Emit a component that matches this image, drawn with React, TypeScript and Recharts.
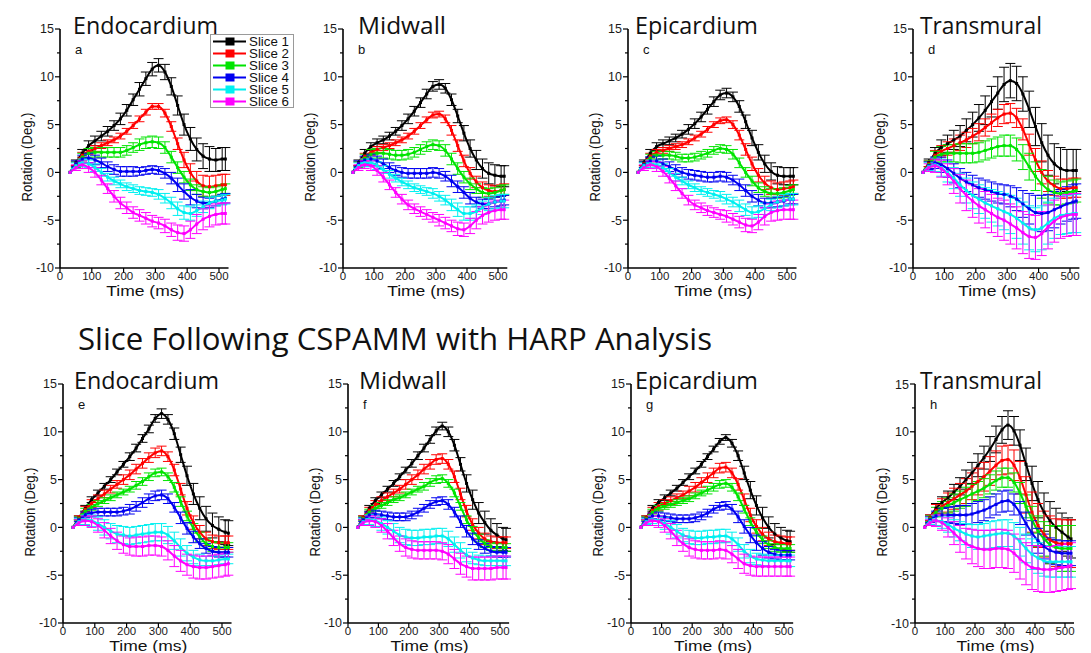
import React from 'react';
import { LineChart, Line, XAxis, YAxis, ErrorBar } from 'recharts';

const times = [32, 50, 70, 90, 110, 130, 150, 170, 190, 210, 230, 250, 270, 290, 310, 330, 350, 370, 390, 410, 430, 450, 470, 490, 510, 520];

const sliceNames = ['Slice 1', 'Slice 2', 'Slice 3', 'Slice 4', 'Slice 5', 'Slice 6'];
const sliceColors = ['#000000', '#ff0000', '#00e400', '#0000f0', '#00f0f0', '#ff00ff'];
const yTicks = [-10, -7.5, -5, -2.5, 0, 2.5, 5, 7.5, 10, 12.5, 15];
const xTicks = [0, 50, 100, 150, 200, 250, 300, 350, 400, 450, 500];
const mainTitle = 'Slice Following CSPAMM with HARP Analysis';

// Panel a – Endocardium (top)
const aS1 = [0, 1.0, 2.0, 2.8, 3.3, 3.8, 4.3, 4.9, 5.6, 6.5, 7.6, 8.7, 9.8, 10.8, 11.2, 10.5, 9.0, 7.0, 5.0, 3.5, 2.4, 1.7, 1.4, 1.3, 1.4, 1.4];
const aS2 = [0, 0.9, 1.8, 2.2, 2.5, 2.8, 3.1, 3.4, 3.8, 4.3, 4.9, 5.6, 6.3, 6.9, 6.9, 6.2, 4.8, 3.0, 1.3, 0.0, -0.9, -1.4, -1.5, -1.4, -1.3, -1.3];
const aS3 = [0, 0.8, 1.6, 2.0, 2.1, 2.1, 2.1, 2.1, 2.1, 2.3, 2.6, 2.9, 3.1, 3.2, 3.1, 2.6, 1.6, 0.5, -0.5, -1.3, -1.8, -2.0, -2.1, -2.0, -1.8, -1.7];
const aS4 = [0, 0.9, 1.4, 1.5, 1.3, 1.0, 0.6, 0.3, 0.1, 0.1, 0.1, 0.1, 0.2, 0.3, 0.2, -0.1, -0.6, -1.3, -2.0, -2.6, -3.0, -3.2, -3.2, -3.0, -2.8, -2.7];
const aS5 = [0, 0.7, 1.0, 0.9, 0.5, 0.0, -0.5, -0.9, -1.2, -1.5, -1.7, -1.9, -2.0, -2.1, -2.3, -2.7, -3.2, -3.8, -4.2, -4.3, -4.0, -3.6, -3.2, -3.0, -2.9, -2.8];
const aS6 = [0, 0.5, 0.8, 0.5, 0.0, -0.8, -1.7, -2.5, -3.2, -3.7, -4.2, -4.5, -4.8, -5.1, -5.3, -5.6, -6.0, -6.3, -6.4, -6.0, -5.4, -4.9, -4.6, -4.4, -4.3, -4.3];
const aE1 = [0, 0.3, 0.4, 0.5, 0.5, 0.5, 0.5, 0.5, 0.6, 0.6, 0.6, 0.7, 0.7, 0.7, 0.7, 0.8, 0.9, 1.0, 1.1, 1.2, 1.2, 1.3, 1.3, 1.2, 1.2, 1.2];
const aE2 = [0, 0.2, 0.3, 0.3, 0.3, 0.3, 0.3, 0.3, 0.3, 0.3, 0.3, 0.3, 0.3, 0.3, 0.3, 0.4, 0.5, 0.6, 0.8, 0.9, 1.0, 1.1, 1.1, 1.1, 1.1, 1.1];
const aE3 = [0, 0.3, 0.4, 0.5, 0.5, 0.5, 0.5, 0.5, 0.5, 0.5, 0.5, 0.6, 0.6, 0.6, 0.6, 0.6, 0.6, 0.6, 0.6, 0.6, 0.5, 0.5, 0.5, 0.5, 0.5, 0.5];
const aE4 = [0, 0.3, 0.4, 0.5, 0.5, 0.5, 0.5, 0.5, 0.5, 0.5, 0.5, 0.4, 0.4, 0.4, 0.4, 0.5, 0.6, 0.7, 0.8, 0.8, 0.7, 0.6, 0.5, 0.5, 0.5, 0.5];
const aE5 = [0, 0.3, 0.4, 0.4, 0.4, 0.4, 0.4, 0.4, 0.4, 0.4, 0.4, 0.4, 0.4, 0.4, 0.5, 0.5, 0.6, 0.7, 0.7, 0.7, 0.6, 0.6, 0.6, 0.5, 0.5, 0.5];
const aE6 = [0, 0.3, 0.4, 0.5, 0.5, 0.5, 0.5, 0.6, 0.6, 0.6, 0.6, 0.6, 0.6, 0.6, 0.6, 0.7, 0.7, 0.8, 0.8, 0.9, 1.0, 1.1, 1.1, 1.1, 1.1, 1.1];

// Panel b – Midwall (top)
const bS1 = [0, 1.0, 2.0, 2.7, 3.1, 3.4, 3.8, 4.3, 4.9, 5.6, 6.4, 7.3, 8.2, 9.0, 9.2, 8.8, 7.6, 5.9, 4.1, 2.5, 1.3, 0.4, -0.1, -0.3, -0.4, -0.4];
const bS2 = [0, 0.9, 1.7, 2.1, 2.4, 2.6, 2.8, 3.1, 3.4, 3.8, 4.3, 4.9, 5.5, 6.0, 6.1, 5.6, 4.4, 2.8, 1.2, -0.1, -1.0, -1.6, -1.9, -2.0, -1.9, -1.8];
const bS3 = [0, 0.8, 1.5, 1.9, 2.0, 2.0, 1.9, 1.8, 1.8, 1.9, 2.1, 2.4, 2.7, 2.9, 2.8, 2.3, 1.4, 0.4, -0.5, -1.2, -1.7, -2.1, -2.2, -2.1, -1.9, -1.8];
const bS4 = [0, 0.9, 1.3, 1.4, 1.2, 0.9, 0.5, 0.2, 0.0, -0.1, -0.1, -0.1, -0.1, 0.0, -0.1, -0.4, -0.9, -1.5, -2.1, -2.7, -3.1, -3.3, -3.3, -3.1, -3.0, -2.9];
const bS5 = [0, 0.7, 1.0, 1.0, 0.7, 0.3, -0.2, -0.6, -1.0, -1.3, -1.6, -1.8, -2.0, -2.2, -2.5, -2.9, -3.4, -3.9, -4.3, -4.3, -4.1, -3.7, -3.3, -3.1, -3.0, -3.0];
const bS6 = [0, 0.5, 0.8, 0.7, 0.2, -0.5, -1.3, -2.1, -2.8, -3.4, -3.8, -4.1, -4.4, -4.7, -5.0, -5.3, -5.6, -5.9, -6.0, -5.6, -5.0, -4.5, -4.2, -4.0, -3.9, -3.9];
const bE1 = [0, 0.3, 0.4, 0.4, 0.4, 0.4, 0.4, 0.4, 0.5, 0.5, 0.5, 0.5, 0.5, 0.5, 0.5, 0.5, 0.6, 0.7, 0.8, 0.9, 1.0, 1.0, 1.1, 1.1, 1.1, 1.1];
const bE2 = [0, 0.2, 0.3, 0.3, 0.3, 0.3, 0.3, 0.3, 0.3, 0.3, 0.3, 0.3, 0.3, 0.3, 0.3, 0.4, 0.5, 0.6, 0.6, 0.6, 0.6, 0.6, 0.6, 0.6, 0.6, 0.6];
const bE3 = [0, 0.3, 0.4, 0.5, 0.5, 0.5, 0.5, 0.5, 0.5, 0.5, 0.5, 0.5, 0.5, 0.5, 0.5, 0.6, 0.6, 0.6, 0.6, 0.6, 0.5, 0.5, 0.5, 0.5, 0.5, 0.5];
const bE4 = [0, 0.3, 0.4, 0.5, 0.5, 0.5, 0.5, 0.5, 0.5, 0.5, 0.5, 0.5, 0.5, 0.5, 0.5, 0.5, 0.6, 0.6, 0.6, 0.6, 0.5, 0.5, 0.5, 0.5, 0.5, 0.5];
const bE5 = [0, 0.3, 0.4, 0.4, 0.4, 0.4, 0.4, 0.4, 0.4, 0.4, 0.4, 0.4, 0.4, 0.5, 0.5, 0.5, 0.6, 0.7, 0.7, 0.7, 0.7, 0.7, 0.7, 0.7, 0.7, 0.7];
const bE6 = [0, 0.3, 0.4, 0.5, 0.5, 0.5, 0.5, 0.5, 0.5, 0.5, 0.5, 0.5, 0.5, 0.5, 0.6, 0.6, 0.6, 0.7, 0.7, 0.8, 0.9, 0.9, 1.0, 1.0, 1.0, 1.0];

// Panel c – Epicardium (top)
const cS1 = [0, 1.0, 2.0, 2.7, 3.0, 3.3, 3.6, 4.0, 4.5, 5.1, 5.8, 6.6, 7.4, 8.1, 8.3, 7.9, 6.9, 5.3, 3.6, 2.1, 0.9, 0.1, -0.3, -0.4, -0.4, -0.4];
const cS2 = [0, 0.9, 1.7, 2.1, 2.3, 2.5, 2.7, 2.9, 3.2, 3.6, 4.0, 4.5, 5.0, 5.4, 5.5, 5.0, 3.9, 2.4, 0.9, -0.3, -1.1, -1.6, -1.8, -1.7, -1.6, -1.5];
const cS3 = [0, 0.8, 1.5, 1.8, 1.8, 1.8, 1.7, 1.5, 1.5, 1.6, 1.8, 2.0, 2.3, 2.5, 2.4, 1.9, 1.0, 0.0, -0.9, -1.6, -2.0, -2.2, -2.2, -2.1, -1.9, -1.8];
const cS4 = [0, 0.8, 1.2, 1.2, 0.9, 0.6, 0.3, 0.0, -0.2, -0.3, -0.4, -0.5, -0.5, -0.4, -0.5, -0.8, -1.3, -1.9, -2.5, -2.9, -3.2, -3.2, -3.1, -3.0, -2.8, -2.8];
const cS5 = [0, 0.7, 0.9, 0.8, 0.5, 0.0, -0.5, -0.9, -1.3, -1.6, -1.9, -2.1, -2.3, -2.5, -2.8, -3.1, -3.5, -3.9, -4.2, -4.1, -3.8, -3.4, -3.1, -2.9, -2.8, -2.8];
const cS6 = [0, 0.5, 0.8, 0.6, 0.1, -0.6, -1.4, -2.2, -2.9, -3.4, -3.7, -4.0, -4.2, -4.4, -4.6, -4.9, -5.2, -5.5, -5.6, -5.2, -4.6, -4.2, -4.0, -3.9, -3.9, -3.9];
const cE1 = [0, 0.3, 0.4, 0.4, 0.4, 0.4, 0.4, 0.4, 0.5, 0.5, 0.5, 0.5, 0.5, 0.5, 0.5, 0.5, 0.6, 0.7, 0.8, 0.8, 0.9, 0.9, 0.9, 0.9, 0.9, 0.9];
const cE2 = [0, 0.2, 0.3, 0.3, 0.3, 0.3, 0.3, 0.3, 0.3, 0.3, 0.3, 0.3, 0.3, 0.3, 0.3, 0.4, 0.5, 0.6, 0.7, 0.7, 0.7, 0.7, 0.7, 0.7, 0.7, 0.7];
const cE3 = [0, 0.3, 0.4, 0.4, 0.4, 0.4, 0.4, 0.4, 0.4, 0.4, 0.4, 0.4, 0.4, 0.4, 0.4, 0.5, 0.5, 0.5, 0.5, 0.5, 0.5, 0.5, 0.5, 0.5, 0.5, 0.5];
const cE4 = [0, 0.3, 0.4, 0.5, 0.5, 0.5, 0.5, 0.5, 0.5, 0.5, 0.5, 0.5, 0.5, 0.5, 0.5, 0.5, 0.6, 0.6, 0.6, 0.6, 0.5, 0.5, 0.5, 0.5, 0.5, 0.5];
const cE5 = [0, 0.3, 0.4, 0.4, 0.4, 0.4, 0.4, 0.4, 0.4, 0.4, 0.4, 0.4, 0.4, 0.5, 0.5, 0.5, 0.6, 0.6, 0.6, 0.6, 0.6, 0.6, 0.6, 0.6, 0.6, 0.6];
const cE6 = [0, 0.3, 0.4, 0.5, 0.5, 0.5, 0.5, 0.5, 0.5, 0.5, 0.5, 0.5, 0.5, 0.5, 0.6, 0.6, 0.6, 0.7, 0.7, 0.8, 0.9, 0.9, 1.0, 1.0, 1.0, 1.0];

// Panel d – Transmural (top)
const dS1 = [0, 1.0, 2.0, 2.6, 3.0, 3.4, 3.8, 4.4, 5.0, 5.7, 6.5, 7.4, 8.3, 9.2, 9.6, 9.3, 8.2, 6.6, 4.8, 3.1, 1.8, 0.9, 0.4, 0.2, 0.2, 0.2];
const dS2 = [0, 0.9, 1.8, 2.2, 2.5, 2.8, 3.1, 3.4, 3.8, 4.2, 4.7, 5.2, 5.7, 6.1, 6.2, 5.7, 4.5, 2.9, 1.3, 0.0, -0.9, -1.4, -1.7, -1.7, -1.6, -1.6];
const dS3 = [0, 0.8, 1.6, 1.9, 2.0, 2.0, 2.0, 2.0, 2.0, 2.1, 2.3, 2.5, 2.7, 2.8, 2.8, 2.4, 1.6, 0.6, -0.4, -1.2, -1.8, -2.1, -2.2, -2.1, -2.0, -1.9];
const dS4 = [0, 0.7, 1.0, 0.8, 0.4, -0.1, -0.6, -1.0, -1.3, -1.6, -1.8, -2.0, -2.2, -2.3, -2.5, -2.8, -3.3, -3.8, -4.2, -4.3, -4.2, -3.9, -3.6, -3.3, -3.1, -3.0];
const dS5 = [0, 0.6, 0.8, 0.5, 0.0, -0.6, -1.3, -1.9, -2.4, -2.8, -3.2, -3.5, -3.8, -4.1, -4.4, -4.8, -5.3, -5.8, -6.0, -5.8, -5.3, -4.8, -4.5, -4.4, -4.3, -4.3];
const dS6 = [0, 0.5, 0.7, 0.4, -0.2, -0.9, -1.7, -2.4, -3.0, -3.5, -3.9, -4.3, -4.7, -5.0, -5.4, -5.8, -6.3, -6.7, -6.8, -6.4, -5.7, -5.1, -4.7, -4.5, -4.4, -4.4];
const dE1 = [0, 0.4, 0.6, 0.8, 0.9, 1.0, 1.1, 1.2, 1.3, 1.4, 1.5, 1.6, 1.7, 1.8, 1.8, 1.8, 1.8, 1.9, 2.0, 2.0, 2.1, 2.1, 2.2, 2.2, 2.2, 2.2];
const dE2 = [0, 0.3, 0.5, 0.6, 0.7, 0.7, 0.8, 0.8, 0.8, 0.9, 0.9, 0.9, 0.9, 1.0, 1.0, 1.0, 1.1, 1.1, 1.2, 1.2, 1.1, 1.0, 1.0, 1.0, 1.0, 1.0];
const dE3 = [0, 0.4, 0.6, 0.8, 0.9, 0.9, 1.0, 1.0, 1.0, 1.0, 1.0, 1.0, 1.0, 1.1, 1.1, 1.2, 1.3, 1.4, 1.5, 1.5, 1.4, 1.3, 1.2, 1.2, 1.2, 1.2];
const dE4 = [0, 0.4, 0.6, 0.8, 0.9, 1.0, 1.0, 1.0, 1.0, 1.0, 1.0, 1.0, 1.0, 1.0, 1.1, 1.2, 1.4, 1.6, 1.8, 1.9, 1.9, 1.9, 1.8, 1.8, 1.8, 1.8];
const dE5 = [0, 0.4, 0.7, 0.9, 1.0, 1.1, 1.2, 1.3, 1.4, 1.5, 1.6, 1.7, 1.8, 1.9, 2.0, 2.1, 2.2, 2.3, 2.3, 2.3, 2.2, 2.1, 2.0, 2.0, 2.0, 2.0];
const dE6 = [0, 0.4, 0.7, 0.9, 1.1, 1.3, 1.5, 1.6, 1.7, 1.8, 1.9, 2.0, 2.0, 2.1, 2.1, 2.2, 2.2, 2.3, 2.3, 2.3, 2.3, 2.2, 2.2, 2.2, 2.2, 2.2];

// Panel e – Endocardium (bottom)
const eS1 = [0, 1.0, 2.0, 2.9, 3.6, 4.3, 5.0, 5.8, 6.6, 7.4, 8.3, 9.3, 10.3, 11.4, 11.9, 11.3, 9.8, 7.6, 5.4, 3.5, 2.0, 0.9, 0.2, -0.2, -0.5, -0.6];
const eS2 = [0, 1.0, 1.9, 2.5, 3.0, 3.5, 4.0, 4.5, 5.0, 5.5, 6.1, 6.7, 7.3, 7.8, 8.0, 7.4, 6.0, 4.0, 2.0, 0.5, -0.5, -1.2, -1.5, -1.6, -1.6, -1.6];
const eS3 = [0, 0.9, 1.7, 2.1, 2.5, 2.8, 3.1, 3.4, 3.7, 4.0, 4.4, 4.8, 5.3, 5.7, 5.8, 5.3, 4.2, 2.7, 1.2, -0.1, -1.0, -1.7, -2.0, -2.1, -2.1, -2.1];
const eS4 = [0, 0.8, 1.3, 1.5, 1.6, 1.6, 1.6, 1.6, 1.7, 1.9, 2.2, 2.6, 3.0, 3.3, 3.4, 3.0, 2.1, 1.0, -0.1, -1.0, -1.7, -2.2, -2.5, -2.6, -2.6, -2.6];
const eS5 = [0, 0.6, 0.8, 0.7, 0.4, 0.0, -0.4, -0.7, -0.8, -0.9, -0.8, -0.7, -0.6, -0.5, -0.5, -0.8, -1.4, -2.1, -2.7, -3.1, -3.4, -3.5, -3.5, -3.4, -3.3, -3.3];
const eS6 = [0, 0.5, 0.7, 0.6, 0.2, -0.3, -0.9, -1.4, -1.8, -2.0, -2.0, -2.0, -1.9, -1.9, -2.0, -2.4, -3.0, -3.5, -3.9, -4.1, -4.2, -4.2, -4.1, -4.0, -3.9, -3.8];
const eE1 = [0, 0.2, 0.3, 0.3, 0.3, 0.3, 0.3, 0.3, 0.3, 0.4, 0.4, 0.4, 0.4, 0.4, 0.5, 0.5, 0.6, 0.8, 1.0, 1.1, 1.2, 1.3, 1.3, 1.3, 1.3, 1.3];
const eE2 = [0, 0.2, 0.3, 0.4, 0.4, 0.4, 0.4, 0.4, 0.5, 0.5, 0.5, 0.5, 0.5, 0.5, 0.5, 0.5, 0.6, 0.6, 0.7, 0.7, 0.7, 0.7, 0.7, 0.7, 0.7, 0.7];
const eE3 = [0, 0.2, 0.3, 0.3, 0.3, 0.3, 0.3, 0.3, 0.3, 0.3, 0.4, 0.4, 0.4, 0.4, 0.4, 0.4, 0.5, 0.5, 0.5, 0.5, 0.5, 0.5, 0.5, 0.5, 0.5, 0.5];
const eE4 = [0, 0.2, 0.3, 0.4, 0.4, 0.4, 0.4, 0.4, 0.4, 0.5, 0.5, 0.5, 0.5, 0.5, 0.5, 0.5, 0.5, 0.6, 0.6, 0.6, 0.5, 0.5, 0.5, 0.5, 0.5, 0.5];
const eE5 = [0, 0.3, 0.5, 0.6, 0.7, 0.8, 0.8, 0.9, 0.9, 0.9, 0.9, 0.9, 0.9, 0.9, 0.9, 0.9, 0.9, 0.9, 0.8, 0.7, 0.6, 0.5, 0.5, 0.5, 0.5, 0.5];
const eE6 = [0, 0.3, 0.5, 0.6, 0.7, 0.8, 0.8, 0.9, 0.9, 0.9, 1.0, 1.0, 1.0, 1.0, 1.0, 1.0, 1.1, 1.1, 1.1, 1.2, 1.2, 1.2, 1.2, 1.2, 1.2, 1.2];

// Panel f – Midwall (bottom)
const fS1 = [0, 1.0, 2.0, 2.8, 3.4, 4.0, 4.6, 5.3, 6.0, 6.7, 7.5, 8.3, 9.2, 10.1, 10.6, 10.0, 8.6, 6.6, 4.6, 2.9, 1.5, 0.5, -0.3, -0.8, -1.2, -1.3];
const fS2 = [0, 1.0, 1.8, 2.4, 2.8, 3.2, 3.6, 4.0, 4.5, 5.0, 5.5, 6.1, 6.6, 7.1, 7.2, 6.6, 5.3, 3.5, 1.7, 0.3, -0.6, -1.2, -1.5, -1.6, -1.6, -1.6];
const fS3 = [0, 0.9, 1.6, 2.0, 2.3, 2.6, 2.9, 3.1, 3.4, 3.7, 4.0, 4.3, 4.7, 5.0, 5.1, 4.6, 3.6, 2.2, 0.8, -0.3, -1.1, -1.7, -2.0, -2.1, -2.1, -2.1];
const fS4 = [0, 0.8, 1.3, 1.4, 1.3, 1.2, 1.1, 1.1, 1.1, 1.3, 1.6, 2.0, 2.4, 2.7, 2.8, 2.4, 1.6, 0.6, -0.4, -1.2, -1.8, -2.2, -2.5, -2.6, -2.6, -2.6];
const fS5 = [0, 0.6, 0.8, 0.7, 0.4, 0.0, -0.4, -0.8, -1.0, -1.1, -1.1, -1.0, -1.0, -0.9, -0.9, -1.2, -1.8, -2.4, -2.9, -3.2, -3.4, -3.5, -3.5, -3.5, -3.5, -3.5];
const fS6 = [0, 0.5, 0.7, 0.6, 0.2, -0.4, -1.1, -1.7, -2.1, -2.3, -2.4, -2.4, -2.4, -2.4, -2.5, -2.8, -3.3, -3.8, -4.1, -4.3, -4.3, -4.3, -4.3, -4.2, -4.2, -4.2];
const fE1 = [0, 0.2, 0.3, 0.3, 0.3, 0.3, 0.3, 0.3, 0.3, 0.4, 0.4, 0.4, 0.4, 0.4, 0.4, 0.5, 0.6, 0.7, 0.9, 1.0, 1.1, 1.2, 1.2, 1.2, 1.2, 1.2];
const fE2 = [0, 0.2, 0.3, 0.4, 0.4, 0.4, 0.4, 0.4, 0.5, 0.5, 0.5, 0.5, 0.5, 0.5, 0.5, 0.5, 0.6, 0.6, 0.6, 0.6, 0.6, 0.6, 0.6, 0.6, 0.6, 0.6];
const fE3 = [0, 0.2, 0.3, 0.3, 0.3, 0.3, 0.3, 0.3, 0.3, 0.3, 0.3, 0.4, 0.4, 0.4, 0.4, 0.4, 0.4, 0.4, 0.4, 0.4, 0.4, 0.4, 0.4, 0.4, 0.4, 0.4];
const fE4 = [0, 0.2, 0.3, 0.4, 0.4, 0.4, 0.4, 0.4, 0.4, 0.4, 0.4, 0.4, 0.4, 0.4, 0.4, 0.5, 0.5, 0.6, 0.6, 0.6, 0.5, 0.5, 0.5, 0.5, 0.5, 0.5];
const fE5 = [0, 0.3, 0.5, 0.6, 0.7, 0.7, 0.8, 0.8, 0.8, 0.8, 0.8, 0.8, 0.8, 0.8, 0.8, 0.8, 0.8, 0.8, 0.7, 0.6, 0.5, 0.5, 0.5, 0.5, 0.5, 0.5];
const fE6 = [0, 0.3, 0.5, 0.6, 0.7, 0.8, 0.8, 0.8, 0.9, 0.9, 0.9, 0.9, 0.9, 0.9, 0.9, 1.0, 1.0, 1.1, 1.1, 1.2, 1.2, 1.2, 1.2, 1.2, 1.2, 1.2];

// Panel g – Epicardium (bottom)
const gS1 = [0, 1.0, 2.0, 2.6, 3.1, 3.6, 4.1, 4.7, 5.3, 5.9, 6.6, 7.4, 8.2, 9.0, 9.4, 8.8, 7.5, 5.7, 3.9, 2.3, 1.0, 0.0, -0.7, -1.1, -1.4, -1.5];
const gS2 = [0, 1.0, 1.8, 2.2, 2.5, 2.8, 3.1, 3.4, 3.8, 4.2, 4.7, 5.2, 5.7, 6.2, 6.3, 5.7, 4.5, 2.9, 1.3, 0.1, -0.7, -1.2, -1.5, -1.6, -1.7, -1.7];
const gS3 = [0, 0.9, 1.6, 2.0, 2.2, 2.4, 2.6, 2.8, 3.0, 3.3, 3.6, 3.9, 4.2, 4.5, 4.6, 4.2, 3.2, 1.9, 0.6, -0.5, -1.3, -1.8, -2.1, -2.2, -2.2, -2.2];
const gS4 = [0, 0.8, 1.2, 1.2, 1.1, 1.0, 0.9, 0.9, 0.9, 1.0, 1.2, 1.5, 1.9, 2.2, 2.3, 1.9, 1.1, 0.1, -0.8, -1.6, -2.2, -2.6, -2.8, -2.9, -2.9, -2.9];
const gS5 = [0, 0.6, 0.8, 0.7, 0.4, 0.0, -0.4, -0.8, -1.0, -1.1, -1.1, -1.0, -1.0, -0.9, -0.9, -1.2, -1.8, -2.5, -3.0, -3.3, -3.4, -3.5, -3.5, -3.5, -3.5, -3.5];
const gS6 = [0, 0.5, 0.7, 0.6, 0.2, -0.4, -1.1, -1.7, -2.1, -2.3, -2.4, -2.4, -2.4, -2.3, -2.4, -2.8, -3.3, -3.8, -4.0, -4.1, -4.1, -4.1, -4.1, -4.1, -4.1, -4.1];
const gE1 = [0, 0.2, 0.3, 0.3, 0.3, 0.3, 0.3, 0.3, 0.3, 0.3, 0.3, 0.3, 0.3, 0.3, 0.3, 0.4, 0.5, 0.7, 0.9, 1.0, 1.1, 1.1, 1.1, 1.1, 1.1, 1.1];
const gE2 = [0, 0.2, 0.3, 0.4, 0.4, 0.4, 0.4, 0.4, 0.5, 0.5, 0.5, 0.5, 0.5, 0.5, 0.5, 0.5, 0.6, 0.6, 0.7, 0.7, 0.7, 0.7, 0.7, 0.7, 0.7, 0.7];
const gE3 = [0, 0.2, 0.3, 0.3, 0.3, 0.3, 0.3, 0.3, 0.3, 0.3, 0.3, 0.4, 0.4, 0.4, 0.4, 0.4, 0.4, 0.4, 0.4, 0.4, 0.4, 0.4, 0.4, 0.4, 0.4, 0.4];
const gE4 = [0, 0.2, 0.3, 0.4, 0.4, 0.4, 0.4, 0.4, 0.4, 0.4, 0.4, 0.4, 0.4, 0.4, 0.4, 0.5, 0.6, 0.7, 0.8, 0.8, 0.7, 0.6, 0.5, 0.5, 0.5, 0.5];
const gE5 = [0, 0.3, 0.4, 0.5, 0.6, 0.7, 0.7, 0.7, 0.7, 0.7, 0.7, 0.7, 0.7, 0.7, 0.7, 0.7, 0.7, 0.7, 0.7, 0.6, 0.6, 0.6, 0.6, 0.6, 0.6, 0.6];
const gE6 = [0, 0.3, 0.5, 0.6, 0.7, 0.8, 0.8, 0.8, 0.9, 0.9, 0.9, 0.9, 0.9, 0.9, 0.9, 0.9, 1.0, 1.0, 1.0, 1.0, 1.0, 1.0, 1.0, 1.0, 1.0, 1.0];

// Panel h – Transmural (bottom)
const hS1 = [0, 1.0, 2.0, 2.6, 3.1, 3.7, 4.3, 5.0, 5.7, 6.5, 7.3, 8.2, 9.2, 10.2, 10.7, 10.1, 8.6, 6.6, 4.6, 2.9, 1.6, 0.7, 0.0, -0.5, -1.0, -1.2];
const hS2 = [0, 1.0, 1.8, 2.2, 2.6, 3.0, 3.4, 3.8, 4.3, 4.8, 5.3, 5.9, 6.5, 7.0, 7.1, 6.5, 5.2, 3.4, 1.6, 0.2, -0.7, -1.3, -1.6, -1.7, -1.7, -1.7];
const hS3 = [0, 0.9, 1.6, 2.0, 2.3, 2.6, 2.9, 3.2, 3.5, 3.8, 4.1, 4.5, 4.9, 5.2, 5.2, 4.7, 3.6, 2.2, 0.8, -0.4, -1.2, -1.8, -2.1, -2.2, -2.2, -2.2];
const hS4 = [0, 0.8, 1.2, 1.3, 1.3, 1.3, 1.3, 1.3, 1.4, 1.6, 1.8, 2.1, 2.4, 2.7, 2.8, 2.4, 1.5, 0.4, -0.6, -1.4, -2.0, -2.4, -2.6, -2.7, -2.7, -2.7];
const hS5 = [0, 0.6, 0.7, 0.6, 0.3, -0.1, -0.4, -0.7, -0.9, -1.0, -0.9, -0.8, -0.7, -0.6, -0.6, -0.9, -1.5, -2.2, -2.8, -3.2, -3.5, -3.6, -3.6, -3.6, -3.6, -3.6];
const hS6 = [0, 0.5, 0.7, 0.5, 0.0, -0.6, -1.2, -1.7, -2.0, -2.2, -2.3, -2.3, -2.2, -2.2, -2.3, -2.7, -3.3, -3.8, -4.2, -4.3, -4.4, -4.4, -4.3, -4.2, -4.1, -4.0];
const hE1 = [0, 0.3, 0.5, 0.6, 0.7, 0.8, 0.9, 1.0, 1.1, 1.2, 1.2, 1.3, 1.4, 1.4, 1.5, 1.5, 1.6, 1.7, 1.8, 1.9, 2.0, 2.0, 2.0, 2.0, 2.0, 2.0];
const hE2 = [0, 0.3, 0.6, 0.8, 1.0, 1.1, 1.2, 1.3, 1.4, 1.4, 1.5, 1.5, 1.5, 1.5, 1.5, 1.6, 1.7, 1.9, 2.1, 2.3, 2.4, 2.5, 2.5, 2.5, 2.5, 2.5];
const hE3 = [0, 0.3, 0.5, 0.7, 0.8, 0.9, 0.9, 1.0, 1.0, 1.0, 1.0, 1.0, 1.0, 1.0, 1.0, 1.0, 1.1, 1.2, 1.4, 1.6, 1.8, 2.0, 2.2, 2.4, 2.4, 2.4];
const hE4 = [0, 0.3, 0.5, 0.7, 0.8, 0.9, 1.0, 1.0, 1.1, 1.1, 1.1, 1.1, 1.1, 1.1, 1.1, 1.1, 1.2, 1.2, 1.3, 1.3, 1.3, 1.3, 1.3, 1.3, 1.3, 1.3];
const hE5 = [0, 0.3, 0.5, 0.7, 0.8, 0.9, 1.0, 1.1, 1.2, 1.3, 1.3, 1.4, 1.4, 1.4, 1.4, 1.4, 1.5, 1.5, 1.6, 1.6, 1.6, 1.6, 1.6, 1.6, 1.6, 1.6];
const hE6 = [0, 0.3, 0.6, 0.8, 1.0, 1.2, 1.4, 1.6, 1.8, 1.9, 2.0, 2.0, 2.0, 2.0, 2.0, 2.0, 2.1, 2.2, 2.3, 2.4, 2.4, 2.4, 2.4, 2.4, 2.4, 2.4];

type Panel = {
  id: string;
  title: string;
  letter: string;
  series: number[][];
  errors: number[][];
  axisX: number;
  plotTop: number;
  px500: number;
  titleDx: number;
  titleW: number;
};

const PLOT_H = 239;
const Y_W = 45;
const M_TOP = 10;
const M_RIGHT = 10;
const X_H = 30;

const panels: Panel[] = [
  { id: 'a', title: 'Endocardium', letter: 'a', series: [aS1, aS2, aS3, aS4, aS5, aS6], errors: [aE1, aE2, aE3, aE4, aE5, aE6], axisX: 60, plotTop: 29, px500: 159, titleDx: 13, titleW: 145 },
  { id: 'b', title: 'Midwall', letter: 'b', series: [bS1, bS2, bS3, bS4, bS5, bS6], errors: [bE1, bE2, bE3, bE4, bE5, bE6], axisX: 343, plotTop: 29, px500: 155, titleDx: 15, titleW: 88 },
  { id: 'c', title: 'Epicardium', letter: 'c', series: [cS1, cS2, cS3, cS4, cS5, cS6], errors: [cE1, cE2, cE3, cE4, cE5, cE6], axisX: 628, plotTop: 29, px500: 159, titleDx: 7, titleW: 123 },
  { id: 'd', title: 'Transmural', letter: 'd', series: [dS1, dS2, dS3, dS4, dS5, dS6], errors: [dE1, dE2, dE3, dE4, dE5, dE6], axisX: 913, plotTop: 29, px500: 157, titleDx: 7, titleW: 122 },
  { id: 'e', title: 'Endocardium', letter: 'e', series: [eS1, eS2, eS3, eS4, eS5, eS6], errors: [eE1, eE2, eE3, eE4, eE5, eE6], axisX: 63, plotTop: 384, px500: 159, titleDx: 11, titleW: 145 },
  { id: 'f', title: 'Midwall', letter: 'f', series: [fS1, fS2, fS3, fS4, fS5, fS6], errors: [fE1, fE2, fE3, fE4, fE5, fE6], axisX: 348, plotTop: 384, px500: 152, titleDx: 11, titleW: 88 },
  { id: 'g', title: 'Epicardium', letter: 'g', series: [gS1, gS2, gS3, gS4, gS5, gS6], errors: [gE1, gE2, gE3, gE4, gE5, gE6], axisX: 631, plotTop: 384, px500: 153, titleDx: 4, titleW: 123 },
  { id: 'h', title: 'Transmural', letter: 'h', series: [hS1, hS2, hS3, hS4, hS5, hS6], errors: [hE1, hE2, hE3, hE4, hE5, hE6], axisX: 915, plotTop: 384, px500: 150, titleDx: 5, titleW: 122 },
];

function buildRows(series: number[][], errors: number[][]) {
  return times.map((t, i) => {
    const row: Record<string, number> = { t };
    series.forEach((s, k) => {
      row['s' + k] = s[i];
      row['e' + k] = errors[k][i];
    });
    return row;
  });
}

const AXIS_FONT = '"Liberation Sans", Arial, sans-serif';

const YTick = (props: any) => {
  const { x, y, payload } = props;
  const v = payload.value as number;
  const major = Math.abs(v % 5) < 1e-9;
  return (
    <g>
      <line x1={x - (major ? 5 : 3)} x2={x} y1={y} y2={y} stroke="#000" strokeWidth={1.2} />
      {major && (
        <text x={x - 6} y={y} dy={4.5} textAnchor="end" fontSize={12.5} fontFamily={AXIS_FONT} fill="#1a1a1a">
          {v}
        </text>
      )}
    </g>
  );
};

const XTick = (props: any) => {
  const { x, y, payload } = props;
  const v = payload.value as number;
  const major = v % 100 === 0;
  return (
    <g>
      <line x1={x} x2={x} y1={y} y2={y + (major ? 5 : 3)} stroke="#000" strokeWidth={1.2} />
      {major && (
        <text x={x} y={y + 12} textAnchor="middle" fontSize={11.5} fontFamily={AXIS_FONT} fill="#1a1a1a">
          {v}
        </text>
      )}
    </g>
  );
};

const makeDot = (color: string) => (p: any) => {
  const { cx, cy, index } = p;
  if (cx == null || cy == null) return <g key={'d' + index} />;
  return <rect key={'d' + index} x={cx - 1.5} y={cy - 1.5} width={3} height={3} fill={color} />;
};

function PanelChart({ panel }: { panel: Panel }) {
  const plotW = (panel.px500 * 530) / 500;
  const width = Y_W + plotW + M_RIGHT;
  const height = M_TOP + PLOT_H + X_H;
  const rows = buildRows(panel.series, panel.errors);
  return (
    <div style={{ position: 'absolute', left: panel.axisX - Y_W, top: panel.plotTop - M_TOP }}>
      <LineChart width={width} height={height} data={rows} margin={{ top: M_TOP, right: M_RIGHT, bottom: 0, left: 0 }}>
        <XAxis
          dataKey="t"
          type="number"
          domain={[0, 530]}
          ticks={xTicks}
          height={X_H}
          tickSize={0}
          tickMargin={0}
          tick={<XTick />}
          tickLine={false}
          axisLine={{ stroke: '#000', strokeWidth: 1.6 }}
          allowDataOverflow
        />
        <YAxis
          type="number"
          domain={[-10, 15]}
          ticks={yTicks}
          width={Y_W}
          tickSize={0}
          tickMargin={0}
          tick={<YTick />}
          tickLine={false}
          axisLine={{ stroke: '#000', strokeWidth: 1.6 }}
          allowDataOverflow
        />
        {sliceColors.map((color, k) => (
          <Line
            key={sliceNames[k]}
            name={sliceNames[k]}
            dataKey={'s' + k}
            type="monotone"
            stroke={color}
            strokeWidth={2}
            dot={makeDot(color)}
            activeDot={false}
            isAnimationActive={false}
          >
            <ErrorBar dataKey={'e' + k} width={5} strokeWidth={1} stroke={color} direction="y" isAnimationActive={false} />
          </Line>
        ))}
      </LineChart>
    </div>
  );
}

function Overlay() {
  const titleFont = '"Open Sans", "Noto Sans", sans-serif';
  return (
    <svg width={1091} height={653} style={{ position: 'absolute', left: 0, top: 0, pointerEvents: 'none' }}>
      {panels.map((p) => {
        const plotBottom = p.plotTop + PLOT_H;
        return (
          <g key={'ov' + p.id}>
            <text
              x={p.axisX + p.titleDx}
              y={p.plotTop + 4.5}
              fontFamily={titleFont}
              fontSize={23}
              fill="#111"
              textLength={p.titleW}
              lengthAdjust="spacingAndGlyphs"
            >
              {p.title}
            </text>
            <text x={p.axisX + 15} y={p.plotTop + 25} fontFamily={AXIS_FONT} fontSize={13} fill="#111">
              {p.letter}
            </text>
            <text
              x={p.axisX + (p.px500 * 265) / 500 + 1}
              y={plotBottom + 28}
              textAnchor="middle"
              fontFamily={AXIS_FONT}
              fontSize={14}
              fill="#111"
              textLength={78}
              lengthAdjust="spacingAndGlyphs"
            >
              Time (ms)
            </text>
            <text
              transform={`translate(${p.axisX - 28}, ${p.plotTop + 128}) rotate(-90)`}
              textAnchor="middle"
              fontFamily={AXIS_FONT}
              fontSize={15}
              fill="#111"
              textLength={89}
              lengthAdjust="spacingAndGlyphs"
            >
              Rotation (Deg.)
            </text>
          </g>
        );
      })}
      <text
        x={78}
        y={350}
        fontFamily={titleFont}
        fontSize={31}
        fill="#111"
        textLength={634}
        lengthAdjust="spacingAndGlyphs"
      >
        {mainTitle}
      </text>
      <g>
        <rect x={210.5} y={34.5} width={83} height={73} fill="#fff" stroke="#9a9a9a" strokeWidth={1} />
        {sliceNames.map((name, i) => {
          const cy = 41.5 + i * 12;
          return (
            <g key={'lg' + i}>
              <line x1={213} x2={246} y1={cy} y2={cy} stroke={sliceColors[i]} strokeWidth={2} />
              <rect x={225.5} y={cy - 4} width={9} height={8} fill={sliceColors[i]} />
              <text x={249} y={cy + 4.5} fontFamily={AXIS_FONT} fontSize={12.5} fill="#111" textLength={40} lengthAdjust="spacingAndGlyphs">
                {name}
              </text>
            </g>
          );
        })}
      </g>
    </svg>
  );
}

export default function App() {
  return (
    <div style={{ position: 'absolute', left: 0, top: 0, width: 1091, height: 653, background: '#ffffff', overflow: 'hidden' }}>
      {panels.map((p) => (
        <PanelChart key={p.id} panel={p} />
      ))}
      <Overlay />
    </div>
  );
}
